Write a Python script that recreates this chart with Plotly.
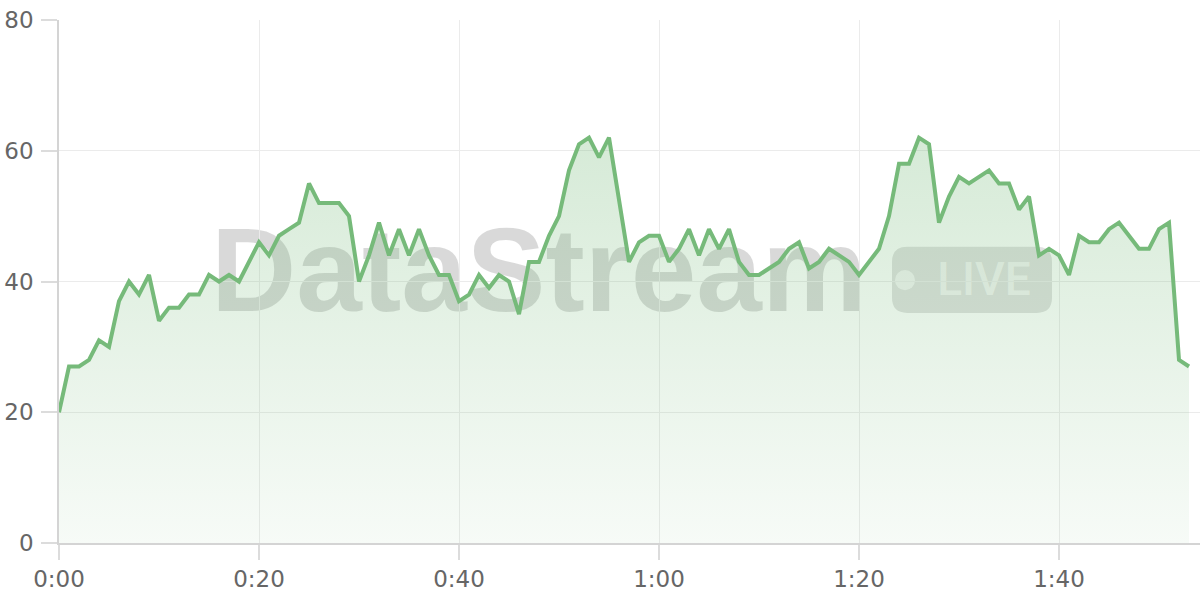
import plotly.graph_objects as go

minutes = list(range(114))
values = [20, 27, 27, 28, 31, 30, 37, 40, 38, 41,
          34, 36, 36, 38, 38, 41, 40, 41, 40, 43,
          46, 44, 47, 48, 49, 55, 52, 52, 52, 50,
          40, 44, 49, 44, 48, 44, 48, 44, 41, 41,
          37, 38, 41, 39, 41, 40, 35, 43, 43, 47,
          50, 57, 61, 62, 59, 62, 52, 43, 46, 47,
          47, 43, 45, 48, 44, 48, 45, 48, 43, 41,
          41, 42, 43, 45, 46, 42, 43, 45, 44, 43,
          41, 43, 45, 50, 58, 58, 62, 61, 49, 53,
          56, 55, 56, 57, 55, 55, 51, 53, 44, 45,
          44, 41, 47, 46, 46, 48, 49, 47, 45, 45,
          48, 49, 28, 27]
x_tickvals = [0, 20, 40, 60, 80, 100]
x_ticktext = ["0:00", "0:20", "0:40", "1:00", "1:20", "1:40"]
y_tickvals = [0, 20, 40, 60, 80]

LINE = "rgb(118,186,122)"
GRID = "#ebebeb"
FONT = "DejaVu Sans"

fig = go.Figure()
fig.add_trace(go.Scatter(
    x=minutes, y=values, mode="lines",
    line=dict(color=LINE, width=4),
    fill="tozeroy",
    fillgradient=dict(type="vertical",
                      colorscale=[[0, "rgba(118,186,122,0.06)"], [1, "rgba(118,186,122,0.3)"]]),
    hoverinfo="skip",
))

# watermark (decoration)
def rounded_rect(x0, x1, y0, y1, rx, ry):
    return (f"M{x0+rx},{y0} L{x1-rx},{y0} Q{x1},{y0} {x1},{y0+ry} "
            f"L{x1},{y1-ry} Q{x1},{y1} {x1-rx},{y1} L{x0+rx},{y1} "
            f"Q{x0},{y1} {x0},{y1-ry} L{x0},{y0+ry} Q{x0},{y0} {x0+rx},{y0} Z")

shapes = [
    dict(type="rect", xref="x", yref="y", x0=10, x1=86, y0=31.4, y1=55.4,
         line=dict(width=0), fillcolor="rgba(0,0,0,0)", layer="below",
         label=dict(text="DataStream", textposition="middle center",
                    font=dict(family="Liberation Sans", size=118, weight=700,
                              color="rgba(0,0,0,0.15)"))),
    dict(type="path", xref="x", yref="y", layer="below",
         path=rounded_rect(83.3, 99.3, 35.2, 45.3, 1.5, 2.3),
         line=dict(width=0), fillcolor="rgba(0,0,0,0.12)"),
    dict(type="circle", xref="x", yref="y", layer="below",
         x0=84.6 - 1.0, x1=84.6 + 1.0, y0=40.2 - 1.55, y1=40.2 + 1.55,
         line=dict(width=0), fillcolor="rgba(255,255,255,0.65)"),
    dict(type="rect", xref="x", yref="y", x0=87, x1=98, y0=35.6, y1=46.1,
         line=dict(width=0), fillcolor="rgba(0,0,0,0)", layer="below",
         label=dict(text="LIVE", textposition="middle center",
                    font=dict(family="Roboto", size=46, weight=500,
                              color="rgba(255,255,255,0.65)"))),
]

fig.update_layout(
    width=1200, height=600,
    margin=dict(l=59, r=0, t=20, b=57, autoexpand=False),
    paper_bgcolor="white", plot_bgcolor="white",
    showlegend=False,
    shapes=shapes,
    font=dict(family=FONT, size=23, color="#666666"),
    xaxis=dict(range=[0, 114.1], tickvals=x_tickvals, ticktext=x_ticktext,
               showgrid=True, gridcolor=GRID, gridwidth=1,
               ticks="outside", ticklen=15, tickcolor="#dcdcdc", tickwidth=1.5,
               showline=True, linecolor="#d4d4d4", linewidth=1.5,
               zeroline=False, fixedrange=True, automargin=False),
    yaxis=dict(range=[0, 80], tickvals=y_tickvals,
               showgrid=True, gridcolor=GRID, gridwidth=1,
               ticks="outside", ticklen=16, tickcolor="#dcdcdc", tickwidth=1.5,
               ticklabelstandoff=3,
               showline=True, linecolor="#d4d4d4", linewidth=1.5,
               zeroline=False, fixedrange=True, automargin=False),
)

fig.write_html("out.html", config={"displayModeBar": False},
               post_script="document.body.style.margin='0';document.body.style.overflow='hidden';")
